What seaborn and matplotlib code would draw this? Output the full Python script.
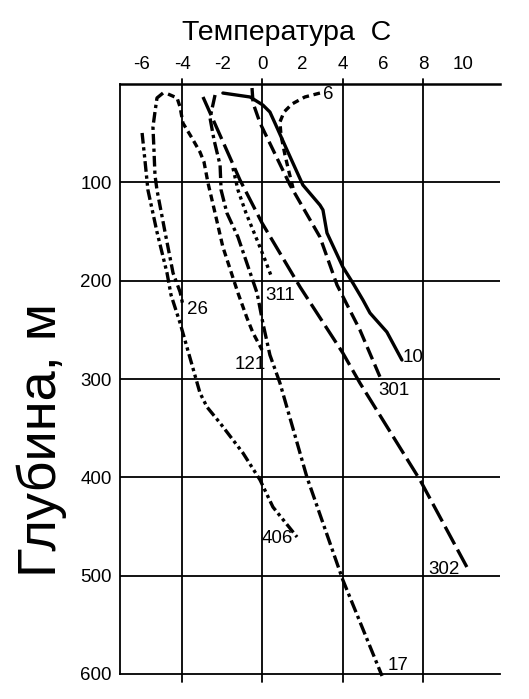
import matplotlib
matplotlib.use('Agg')
import matplotlib.pyplot as plt
import seaborn as sns

sns.set_theme(style='white')
plt.rcParams['font.family'] = ['Liberation Sans', 'DejaVu Sans']
plt.rcParams['axes.unicode_minus'] = False

title = 'Температура  С'
ylabel = 'Глубина, м'
x_ticks = [-6, -4, -2, 0, 2, 4, 6, 8, 10]
y_ticks = [100, 200, 300, 400, 500, 600]
grid_x = [-4, 0, 4, 8]
grid_y = [100, 200, 300, 400, 500]

# well 6 (short dashes)
t6 = [2.86, 2.11, 1.47, 1.07, 0.87, 0.92, 1.12, 1.32, 1.52]
d6 = [9.2, 13.2, 20.3, 28.5, 38.6, 51.9, 72.2, 89.5, 105.8]
# well 10 (solid)
t10 = [-1.97, -0.62, 0.02, 0.37, 0.62, 1.22, 2.01, 2.86, 3.01, 3.21, 4.0, 4.5, 5.0, 5.35, 6.19, 6.94]
d10 = [9.2, 13.2, 21.4, 28.5, 39.7, 67.1, 102.7, 123.1, 128.1, 151.5, 186.1, 202.4, 219.7, 232.9, 252.2, 280.7]
# well 301 (long dashes)
t301 = [-0.52, -0.47, -0.12, 1.37, 2.86, 3.71, 4.85, 5.85]
d301 = [4.1, 19.3, 39.7, 102.7, 155.6, 204.4, 250.2, 298.0]
# well 302 (very long dashes)
t302 = [-2.96, -1.12, -0.02, 1.87, 4.0, 4.85, 7.84, 10.17]
d302 = [13.2, 97.6, 141.4, 206.4, 273.6, 304.1, 402.7, 491.2]
# well 17 (dash-dot)
t17 = [-2.36, -2.61, -2.41, -2.11, -2.06, -1.77, -1.22, -0.27, 0.02, 0.37, 0.87, 2.21, 4.0, 5.95]
d17 = [11.2, 34.6, 57.0, 82.4, 107.8, 131.2, 155.6, 212.5, 243.1, 275.6, 304.1, 399.7, 504.4, 602.0]
# well 121 (short dashes)
t121 = [-4.70, -4.25, -4.10, -3.96, -3.51, -3.11, -2.91, -2.71, -2.36, -1.97, -1.22, -0.77, -0.47, -0.02]
d121 = [10.2, 14.2, 23.4, 39.7, 54.9, 69.2, 79.3, 100.7, 131.2, 165.8, 212.5, 238.0, 253.2, 270.5]
# well 26 (dash-dot)
t26 = [-4.95, -5.25, -5.35, -5.45, -5.40, -5.35, -5.25, -4.85, -4.45, -4.10, -3.96]
d26 = [9.2, 14.2, 28.5, 43.7, 67.1, 92.5, 107.8, 150.5, 192.2, 211.5, 224.8]
# well 406 (dash-dot-dot)
t406 = [-5.99, -5.85, -5.70, -5.25, -4.75, -4.55, -4.10, -3.11, -2.76, -2.11, -0.97, -0.12, 0.52, 1.72]
d406 = [49.8, 77.3, 107.8, 150.5, 192.2, 214.6, 243.1, 314.2, 328.5, 344.8, 375.3, 402.7, 430.2, 460.7]
# well 311 (dotted)
t311 = [-1.47, -1.22, -0.82, -0.27, 0.17, 0.47]
d311 = [85.4, 107.8, 131.2, 158.6, 181.0, 197.3]

wells = [
    ('6', t6, d6, (0, (2.0, 1.4)), (3.0, 11)),
    ('10', t10, d10, '-', (6.99, 278)),
    ('301', t301, d301, (0, (4.0, 1.7)), (5.75, 312)),
    ('302', t302, d302, (0, (6.0, 1.8)), (8.23, 494)),
    ('17', t17, d17, (0, (3.8, 1.2, 1.0, 1.2)), (6.24, 591)),
    ('121', t121, d121, (0, (2.1, 1.3)), (-1.37, 285)),
    ('26', t26, d26, (0, (3.2, 1.2, 1.0, 1.2)), (-3.76, 229)),
    ('406', t406, d406, (0, (3.2, 1.1, 1.0, 1.1, 1.0, 1.1)), (-0.02, 462)),
    ('311', t311, d311, (0, (1.0, 1.2)), (0.12, 215)),
]

W, H = 529, 699
fig = plt.figure(figsize=(W / 100, H / 100), dpi=100)
ax = fig.add_axes([120 / W, 1 - 674 / H, 380 / W, 590 / H])
ax.set_facecolor('white')

for yv in grid_y:
    ax.axhline(yv, color='black', lw=1.3, zorder=1)
for xv in grid_x:
    ax.axvline(xv, ymin=-0.013, ymax=1.009, color='black', lw=1.3, clip_on=False, zorder=1)

for name, t, d, ls, (lx, ly) in wells:
    sns.lineplot(x=t, y=d, sort=False, estimator=None, color='black',
                 linewidth=2.4, linestyle=ls, ax=ax, clip_on=False, zorder=3)
    ax.text(lx, ly, name, ha='left', va='center', fontsize=13.5, color='black', zorder=4)

ax.set_xlim(-7.09, 11.82)
ax.set_ylim(600, 0)
ax.xaxis.tick_top()
ax.set_xticks(x_ticks)
ax.set_xticklabels([str(v) for v in x_ticks])
ax.set_yticks(y_ticks)
ax.set_yticklabels([str(v) for v in y_ticks])
ax.tick_params(axis='x', length=0, pad=8.0, labelsize=13.5, colors='black')
ax.tick_params(axis='y', length=0, pad=6, labelsize=13.5, colors='black')
ax.set_xlabel('')
ax.set_ylabel('')

for side in ['top', 'left', 'bottom']:
    ax.spines[side].set_visible(True)
    ax.spines[side].set_color('black')
ax.spines['top'].set_linewidth(1.8)
ax.spines['left'].set_linewidth(1.3)
ax.spines['bottom'].set_linewidth(1.3)
ax.spines['right'].set_visible(False)

fig.text(287 / W, 1 - 33 / H, title, ha='center', va='center', fontsize=20.5, color='black')
fig.text(42 / W, 1 - 440 / H, ylabel, ha='center', va='center', rotation=90, fontsize=39, color='black')

fig.savefig('out.png', dpi=100, facecolor='white')
